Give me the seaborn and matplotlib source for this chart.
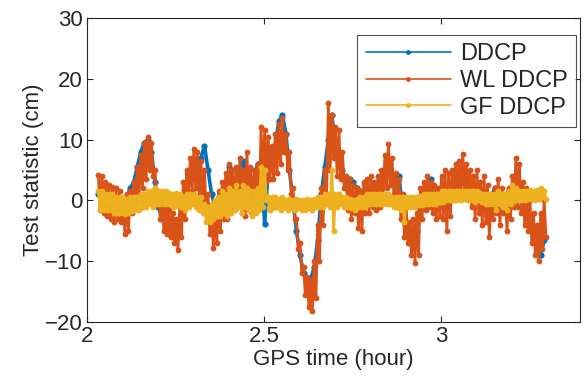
import numpy as np
import pandas as pd
import seaborn as sns
import matplotlib
matplotlib.use("Agg")
import matplotlib.pyplot as plt
from matplotlib.lines import Line2D

# ---- data (epochs every 0.01 h, starting 2.032 h) ----
t_start = 2.032
t_step = 0.01

# WL DDCP: upper / lower extent of the noisy band at each epoch (cm)
wl_upper = [4.2, 4.0, 3.0, 2.5, 2.2, 2.0, 1.5, 0.5, 1.0, 1.5,
            3.0, 5.5, 7.5, 9.5, 10.5, 9.5, 5.0, 1.5, 0.5, -1.0,
            -1.5, -2.0, -3.0, -1.0, 3.0, 5.0, 7.0, 8.5, 8.0, 6.5,
            5.0, 1.0, -1.0, -1.0, 1.5, 3.0, 4.5, 6.0, 5.0, 5.5,
            7.0, 5.0, 8.0, 5.5, 5.0, 6.0, 12.0, 11.5, 10.5, 9.0,
            11.0, 12.5, 13.5, 11.0, 8.0, 2.0, -3.0, -7.0, -11.0, -12.5,
            -13.0, -10.0, -4.0, 2.0, 5.0, 16.0, 14.0, 12.0, 11.5, 8.0,
            4.0, 3.5, 2.5, 2.0, 1.5, 3.0, 3.5, 4.0, 3.0, 4.0,
            5.0, 7.5, 9.3, 7.0, 4.5, 3.5, 1.0, -1.0, -3.5, -3.0,
            -2.0, 2.0, 3.0, 4.0, 3.0, 2.5, 2.0, 4.0, 5.0, 4.5,
            5.0, 6.0, 6.5, 7.7, 6.0, 5.0, 4.0, 5.0, 3.0, 4.0,
            2.5, 1.0, 2.0, 3.5, 2.0, 1.0, 2.0, 4.0, 7.0, 6.0,
            3.0, 2.0, 0.0, -2.0, -4.0, -2.0, 0.0]
wl_lower = [-1.5, -2.0, -2.5, -3.0, -3.5, -3.0, -3.5, -5.5, -5.0, -2.0,
            0.0, 0.5, 2.0, 3.5, 5.0, 4.0, 0.0, -3.0, -5.0, -5.5,
            -6.0, -7.0, -8.2, -6.0, -3.0, 1.0, 1.5, 2.0, 0.5, -1.0,
            -2.0, -5.5, -7.8, -7.0, -5.0, -3.0, -3.0, -1.5, -1.0, -1.0,
            -2.0, -2.5, -1.5, -2.0, 0.0, 0.5, 2.0, 3.0, 3.5, 3.5,
            4.5, 6.0, 8.0, 5.0, 1.0, -3.0, -8.0, -12.0, -15.5, -17.5,
            -18.2, -16.0, -10.0, -4.0, 0.0, 5.0, 7.0, 4.0, 3.5, 2.0,
            -1.5, -3.0, -2.0, -4.5, -5.0, -2.0, -2.0, -1.0, -1.5, -1.0,
            0.5, 2.0, 2.5, 1.0, -1.0, -3.0, -6.0, -7.0, -9.0, -10.3,
            -9.0, -3.0, -1.5, -1.0, -2.0, -3.0, -2.5, -3.0, -5.0, -2.5,
            0.0, 0.5, 1.0, 1.5, 0.5, -1.0, -3.0, -2.0, -4.0, -3.5,
            -6.0, -3.0, -2.0, -4.0, -2.0, -5.0, -3.0, -1.0, -1.0, -2.0,
            -4.0, -5.0, -7.0, -9.0, -10.0, -8.0, -6.0]

# DDCP (cm)
ddcp = [1.0, 1.0, 0.5, 0.0, -0.5, -0.5, -1.0, -1.5, 0.5, 2.0,
        3.0, 5.5, 8.0, 9.5, 10.0, 8.0, 3.0, -1.0, -3.0, -4.0,
        -4.5, -5.0, -5.5, -3.0, 0.5, 3.0, 5.0, 6.0, 5.5, 7.0,
        9.0, 5.0, 1.0, -1.0, 0.5, 1.5, 2.0, 5.5, 2.5, 3.0,
        4.0, 6.5, 3.0, 2.0, 3.5, 6.0, 6.0, -3.8, 5.0, 7.0,
        9.0, 13.0, 14.0, 11.0, 5.0, 0.0, -5.0, -9.0, -12.0, -13.0,
        -13.0, -11.0, -6.5, 1.0, 5.5, 10.0, 14.0, 9.0, 7.0, 5.0,
        3.0, 3.5, 3.0, 2.0, 1.5, 0.5, 1.0, 1.5, 1.0, 1.5,
        3.0, 5.0, 6.0, 4.0, 2.5, 4.0, -2.0, -4.0, -6.0, -7.0,
        -5.0, 0.0, 1.0, 1.5, 3.5, 0.5, 0.0, 1.0, 0.0, 1.0,
        2.0, 3.0, 3.5, 4.0, 3.5, 2.0, 1.0, 1.5, 0.0, 0.5,
        -1.0, 0.5, 2.0, 0.0, -0.5, -1.0, 1.8, 1.5, 3.0, 2.0,
        -0.5, -1.5, -3.5, -5.5, -7.0, -9.0, -6.5]

# GF DDCP: upper / lower extent of the band (cm)
gf_upper = [1.5, 1.5, 1.0, 1.0, 1.0, 0.5, 0.5, 0.5, 0.3, 0.5,
            0.5, 0.5, 1.0, 1.0, 1.5, 1.5, 2.0, 1.5, 1.5, 1.5,
            1.2, 1.0, 1.2, 1.0, 0.5, 1.0, 1.0, 1.0, 0.5, 0.5,
            -0.5, -1.0, -0.5, 0.0, 0.5, 1.5, 1.0, 2.0, 1.5, 2.5,
            1.5, 2.5, 2.0, 1.5, 1.5, 2.0, 5.5, 5.0, 0.5, 0.5,
            0.5, 0.3, 0.5, 0.0, 0.2, 0.0, 0.3, 0.0, 0.0, 0.2,
            0.0, 0.2, 0.5, 0.5, 1.0, 1.0, 5.0, 1.0, 1.0, 0.5,
            0.5, 0.3, 0.0, 0.3, 0.5, 0.5, 1.0, 1.0, 1.0, 1.0,
            1.0, 1.0, 1.0, 0.5, 0.5, 0.5, 0.5, 0.5, 0.5, 0.5,
            0.5, 0.8, 1.0, 1.0, 1.0, 1.0, 1.0, 1.5, 1.5, 1.5,
            1.5, 1.5, 1.5, 1.5, 1.5, 1.5, 1.5, 1.5, 1.2, 1.0,
            1.0, 1.0, 1.0, 1.5, 1.0, 1.0, 1.5, 2.5, 2.0, 1.5,
            1.5, 1.5, 1.8, 1.5, 1.8, 2.0, 1.5]
gf_lower = [-1.5, -1.5, -1.5, -1.5, -2.0, -2.0, -2.0, -2.2, -2.0, -1.8,
            -1.5, -1.5, -1.0, -1.0, -0.5, -1.0, -0.5, -0.5, -0.5, -0.5,
            -0.8, -1.0, -0.5, -1.0, -1.5, -1.0, -0.5, -1.0, -1.5, -2.0,
            -3.5, -3.5, -3.0, -2.5, -2.5, -2.0, -2.5, -2.0, -1.5, -1.0,
            -2.0, -1.0, -1.5, -2.5, -2.0, -1.5, -1.0, 0.0, -1.5, -1.2,
            -1.0, -1.5, -1.0, -1.5, -1.2, -1.5, -1.2, -1.5, -1.5, -1.2,
            -1.5, -1.0, -1.0, -1.0, -0.5, -1.0, -5.0, -1.0, -0.5, -1.0,
            -1.0, -1.2, -1.5, -1.0, -1.0, -1.0, -0.5, -0.5, -0.5, -0.5,
            -0.5, -0.5, -0.5, -1.0, -1.0, -1.5, -3.5, -1.0, -1.0, -1.0,
            -0.8, -0.8, -0.5, -0.5, -0.5, -0.5, -0.3, -0.3, 0.0, 0.0,
            0.0, 0.0, 0.0, 0.2, 0.0, 0.0, -0.2, 0.0, -0.3, -0.5,
            -0.5, -0.5, -1.5, -0.5, -1.0, -1.5, -0.5, 0.0, 0.0, 0.0,
            0.0, 0.2, 0.2, 0.0, 0.3, 0.5, 0.3]

series_names = ["DDCP", "WL DDCP", "GF DDCP"]
colors = ["#0072BD", "#D95319", "#EDB120"]

# ---- build long table ----
n = len(ddcp)
epochs = t_start + t_step * np.arange(n)
half = t_step / 2

def band(upper, lower):
    tt, vv = [], []
    for k in range(n):
        tt += [epochs[k], epochs[k] + half]
        vv += [upper[k], lower[k]]
    return tt, vv

frames = []
frames.append(pd.DataFrame({"t": epochs, "v": ddcp, "series": "DDCP"}))
tw, vw = band(wl_upper, wl_lower)
frames.append(pd.DataFrame({"t": tw, "v": vw, "series": "WL DDCP"}))
tg, vg = band(gf_upper, gf_lower)
frames.append(pd.DataFrame({"t": tg, "v": vg, "series": "GF DDCP"}))
df = pd.concat(frames, ignore_index=True)

# ---- plot ----
sns.set_theme(style="white")
plt.rcParams["font.family"] = ["Liberation Sans", "DejaVu Sans"]

fig = plt.figure(figsize=(5.84, 3.90), dpi=100)
ax = fig.add_axes([0.149, 0.174, 0.844, 0.780])

widths = {"DDCP": 2.6, "WL DDCP": 2.0, "GF DDCP": 2.0}
msizes = {"DDCP": 4.5, "WL DDCP": 4.2, "GF DDCP": 4.2}
for name, col in zip(series_names, colors):
    sub = df[df["series"] == name]
    sns.lineplot(data=sub, x="t", y="v", ax=ax, color=col, estimator=None,
                 sort=False, linewidth=widths[name], marker="o",
                 markersize=msizes[name], markeredgewidth=0, legend=False)

ax.set_xlim(2.0, 3.393)
ax.set_ylim(-20, 30)
ax.set_xticks([2, 2.5, 3])
ax.set_xticklabels(["2", "2.5", "3"])
ax.set_yticks([-20, -10, 0, 10, 20, 30])
ax.set_xlabel("GPS time (hour)", fontsize=16, color="#262626", labelpad=1)
ax.set_ylabel("Test statistic (cm)", fontsize=16, color="#262626", labelpad=1)
ax.tick_params(axis="both", which="both", direction="in", length=4, width=0.8,
               labelsize=16, colors="#262626", top=True, right=True,
               bottom=True, left=True, pad=3)
for s in ax.spines.values():
    s.set_color("#262626")
    s.set_linewidth(0.8)

handles = [Line2D([0, 0.5, 1], [0, 0, 0], color=c, linewidth=1.2, marker="o",
                  markersize=3.5, markevery=[1], markeredgewidth=0) for c in colors]
leg = ax.legend(handles, series_names, loc="upper right",
                bbox_to_anchor=(0.992, 0.944), borderaxespad=0, fontsize=17,
                frameon=True, fancybox=False, edgecolor="#262626",
                handlelength=3.6, handletextpad=0.4, borderpad=0.35,
                labelspacing=0.2)
leg.get_frame().set_linewidth(0.8)

fig.savefig("out.png", dpi=100)
